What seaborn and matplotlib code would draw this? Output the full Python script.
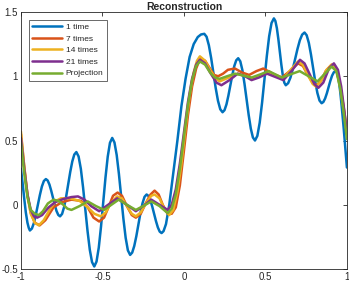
import numpy as np
import pandas as pd
import seaborn as sns
import matplotlib
matplotlib.use("Agg")
import matplotlib.pyplot as plt

labels = ["1 time", "7 times", "14 times", "21 times", "Projection"]
colors = ["#0072BD", "#D95319", "#EDB120", "#7E2F8E", "#77AC30"]

x_1 = [-1.000, -0.990, -0.980, -0.970, -0.960, -0.952, -0.945,
       -0.9328, -0.9205, -0.9083, -0.896, -0.8838, -0.8715, -0.8593, -0.847,
       -0.8361, -0.8253, -0.8144, -0.8035, -0.7926, -0.7818, -0.7709, -0.760,
       -0.7475, -0.735, -0.7225, -0.710, -0.6975, -0.685, -0.6725, -0.660,
       -0.6463, -0.6325, -0.6188, -0.605, -0.5913, -0.5775, -0.5638, -0.550,
       -0.5363, -0.5225, -0.5088, -0.495, -0.4813, -0.4675, -0.4538, -0.440,
       -0.4263, -0.4125, -0.3988, -0.385, -0.3713, -0.3575, -0.3438, -0.330,
       -0.3174, -0.3048, -0.2921, -0.2795, -0.2669, -0.2543, -0.2416, -0.229,
       -0.2175, -0.206, -0.1945, -0.183, -0.1715, -0.160, -0.1485, -0.137,
       -0.125, -0.110, -0.090, -0.065, -0.040, -0.015, 0.010, 0.035, 0.060, 0.085, 0.105, 0.125,
       0.139, 0.153, 0.167, 0.181, 0.195, 0.209, 0.223, 0.237,
       0.249, 0.261, 0.273, 0.285, 0.297, 0.309, 0.321, 0.333,
       0.3459, 0.3588, 0.3716, 0.3845, 0.3974, 0.4103, 0.4231, 0.436,
       0.4505, 0.465, 0.4795, 0.494, 0.5085, 0.523, 0.5375, 0.552,
       0.5611, 0.5703, 0.5794, 0.5885, 0.5976, 0.6068, 0.6159, 0.625,
       0.6394, 0.6538, 0.6681, 0.6825, 0.6969, 0.7113, 0.7256, 0.740,
       0.7531, 0.7663, 0.7794, 0.7925, 0.8056, 0.8188, 0.8319, 0.845,
       0.8556, 0.8663, 0.8769, 0.8875, 0.8981, 0.9088, 0.9194, 0.930,
       0.940, 0.950, 0.960, 0.970, 0.980, 0.990, 1.000]
y_1 = [0.28, 0.17, 0.05, -0.06, -0.14, -0.18, -0.20,
       -0.185, -0.142, -0.076, 0.00, 0.076, 0.142, 0.185, 0.20,
       0.189, 0.158, 0.110, 0.055, 0.000, -0.048, -0.079, -0.09,
       -0.071, -0.017, 0.0645, 0.16, 0.2555, 0.337, 0.391, 0.41,
       0.376, 0.280, 0.135, -0.035, -0.205, -0.350, -0.446, -0.48,
       -0.442, -0.334, -0.171, 0.02, 0.211, 0.374, 0.482, 0.52,
       0.485, 0.387, 0.239, 0.065, -0.109, -0.257, -0.355, -0.39,
       -0.372, -0.321, -0.245, -0.155, -0.065, 0.011, 0.062, 0.08,
       0.069, 0.036, -0.013, -0.07, -0.127, -0.176, -0.209, -0.22,
       -0.205, -0.15, 0.00, 0.25, 0.50, 0.77, 0.98, 1.15, 1.25, 1.305, 1.325, 1.33,
       1.307, 1.241, 1.142, 1.025, 0.908, 0.809, 0.743, 0.72,
       0.736, 0.781, 0.850, 0.93, 1.010, 1.079, 1.124, 1.14,
       1.116, 1.047, 0.942, 0.82, 0.698, 0.593, 0.524, 0.50,
       0.536, 0.639, 0.794, 0.975, 1.156, 1.311, 1.414, 1.45,
       1.430, 1.374, 1.289, 1.19, 1.091, 1.006, 0.950, 0.93,
       0.946, 0.990, 1.057, 1.135, 1.213, 1.280, 1.324, 1.34,
       1.319, 1.260, 1.170, 1.065, 0.960, 0.870, 0.811, 0.79,
       0.80, 0.827, 0.867, 0.915, 0.963, 1.004, 1.03, 1.04,
       1.03, 0.97, 0.87, 0.74, 0.60, 0.45, 0.29]

x_7 = [-1.000, -0.980, -0.960, -0.940, -0.915, -0.885, -0.850, -0.800, -0.750, -0.690,
       -0.630, -0.590, -0.555, -0.520, -0.490, -0.460, -0.435, -0.407, -0.380, -0.350,
       -0.320, -0.295, -0.265, -0.235, -0.205, -0.180, -0.155, -0.130, -0.100, -0.075,
       -0.050, -0.025, 0.000, 0.025, 0.050, 0.075, 0.100, 0.130, 0.160, 0.185,
       0.210, 0.240, 0.270, 0.313, 0.355, 0.400, 0.445, 0.487, 0.545, 0.600,
       0.650, 0.700, 0.730, 0.760, 0.790, 0.815, 0.840, 0.870, 0.906, 0.935,
       0.960, 0.980, 1.000]
y_7 = [0.55, 0.30, 0.08, -0.06, -0.14, -0.16, -0.12, -0.02, 0.02, 0.04,
       0.03, -0.02, -0.10, -0.13, -0.10, -0.01, 0.07, 0.095, 0.07, -0.01,
       -0.08, -0.10, -0.07, 0.01, 0.08, 0.11, 0.08, 0.00, -0.07, -0.07,
       -0.02, 0.15, 0.42, 0.70, 0.92, 1.06, 1.14, 1.12, 1.06, 1.01,
       1.00, 1.02, 1.05, 1.06, 1.03, 1.01, 1.04, 1.06, 1.02, 0.99,
       1.04, 1.10, 1.08, 1.01, 0.95, 0.93, 0.96, 1.04, 1.09, 1.05,
       0.92, 0.76, 0.58]

x_14 = [-1.000, -0.980, -0.960, -0.940, -0.915, -0.890, -0.860, -0.820, -0.785, -0.755,
        -0.700, -0.640, -0.590, -0.550, -0.510, -0.480, -0.450, -0.410, -0.380, -0.350,
        -0.320, -0.295, -0.265, -0.230, -0.200, -0.180, -0.150, -0.120, -0.090, -0.065,
        -0.040, -0.015, 0.010, 0.035, 0.060, 0.080, 0.098, 0.130, 0.165, 0.195,
        0.220, 0.275, 0.330, 0.380, 0.430, 0.470, 0.510, 0.560, 0.610, 0.655,
        0.700, 0.730, 0.760, 0.790, 0.810, 0.840, 0.875, 0.906, 0.935, 0.960,
        0.980, 1.000]
y_14 = [0.57, 0.30, 0.07, -0.07, -0.14, -0.16, -0.12, -0.03, 0.03, 0.05,
        0.05, 0.03, -0.02, -0.07, -0.09, -0.06, 0.01, 0.065, 0.05, -0.01,
        -0.07, -0.09, -0.06, 0.02, 0.07, 0.08, 0.05, -0.03, -0.08, -0.04,
        0.10, 0.32, 0.60, 0.85, 1.03, 1.12, 1.155, 1.12, 1.04, 0.98,
        0.96, 0.99, 1.02, 1.00, 0.98, 1.005, 1.03, 1.005, 0.98, 1.05,
        1.115, 1.09, 1.01, 0.94, 0.92, 0.96, 1.05, 1.09, 1.05, 0.91,
        0.74, 0.55]

x_21 = [-1.000, -0.980, -0.960, -0.940, -0.920, -0.900, -0.870, -0.830, -0.790, -0.740,
        -0.690, -0.650, -0.610, -0.570, -0.520, -0.465, -0.410, -0.350, -0.295, -0.250,
        -0.200, -0.150, -0.100, -0.075, -0.050, -0.025, 0.000, 0.025, 0.050, 0.075,
        0.098, 0.130, 0.165, 0.200, 0.230, 0.280, 0.330, 0.375, 0.415, 0.460,
        0.510, 0.560, 0.610, 0.660, 0.712, 0.740, 0.770, 0.800, 0.825, 0.855,
        0.890, 0.920, 0.945, 0.965, 0.985, 1.000]
y_21 = [0.52, 0.28, 0.08, -0.04, -0.09, -0.10, -0.08, -0.02, 0.02, 0.045,
        0.06, 0.065, 0.04, -0.01, -0.05, 0.00, 0.05, 0.00, -0.05, -0.01,
        0.04, 0.00, -0.04, 0.00, 0.12, 0.32, 0.56, 0.80, 0.98, 1.09,
        1.128, 1.10, 1.02, 0.95, 0.93, 0.97, 1.02, 1.00, 0.97, 0.99,
        1.02, 0.995, 0.97, 1.04, 1.128, 1.10, 1.02, 0.94, 0.91, 0.95,
        1.06, 1.10, 1.05, 0.92, 0.72, 0.55]

x_p = [-1.000, -0.980, -0.960, -0.940, -0.915, -0.890, -0.865, -0.835, -0.800, -0.770,
       -0.740, -0.715, -0.690, -0.640, -0.590, -0.540, -0.490, -0.445, -0.400, -0.350,
       -0.295, -0.250, -0.200, -0.150, -0.100, -0.075, -0.050, -0.025, 0.000, 0.025,
       0.050, 0.075, 0.098, 0.130, 0.160, 0.190, 0.220, 0.265, 0.313, 0.365,
       0.415, 0.470, 0.520, 0.560, 0.600, 0.655, 0.710, 0.765, 0.820, 0.865,
       0.906, 0.935, 0.960, 0.980, 1.000]
y_p = [0.48, 0.25, 0.06, -0.04, -0.07, -0.08, -0.05, 0.01, 0.04, 0.03,
       0.00, -0.03, -0.04, -0.01, 0.026, -0.01, -0.04, 0.00, 0.04, 0.00,
       -0.04, -0.01, 0.026, -0.01, -0.065, -0.03, 0.08, 0.28, 0.53, 0.78,
       0.97, 1.08, 1.115, 1.09, 1.03, 0.99, 0.98, 1.00, 1.02, 1.005,
       0.99, 1.015, 1.04, 1.015, 0.99, 1.015, 1.04, 1.00, 0.96, 1.02,
       1.075, 1.04, 0.90, 0.72, 0.51]

series_x = [x_1, x_7, x_14, x_21, x_p]
series_y = [y_1, y_7, y_14, y_21, y_p]

frames = []
for lab, xs, ys in zip(labels, series_x, series_y):
    frames.append(pd.DataFrame({"x": xs, "y": ys, "series": lab}))
df = pd.concat(frames, ignore_index=True)

sns.set_theme(style="white")
plt.rcParams["font.family"] = ["Liberation Sans", "DejaVu Sans"]

fig = plt.figure(figsize=(3.49, 2.85), dpi=100)
ax = fig.add_axes([0.060, 0.056, 0.934, 0.902])

sns.lineplot(data=df, x="x", y="y", hue="series", hue_order=labels,
             palette=dict(zip(labels, colors)), sort=False, estimator=None,
             linewidth=1.8, ax=ax, legend=True)
for ln in ax.get_lines():
    ln.set_solid_joinstyle("round")
    ln.set_solid_capstyle("round")

ax.set_xlim(-1, 1)
ax.set_ylim(-0.5, 1.5)
ax.set_xticks([-1, -0.5, 0, 0.5, 1])
ax.set_xticklabels(["-1", "-0.5", "0", "0.5", "1"])
ax.set_yticks([-0.5, 0, 0.5, 1, 1.5])
ax.set_yticklabels(["-0.5", "0", "0.5", "1", "1.5"])
ax.set_xlabel("")
ax.set_ylabel("")
ax.set_title("Reconstruction", fontsize=7.5, fontweight="bold", pad=1.5)

for s in ax.spines.values():
    s.set_color("#262626")
    s.set_linewidth(0.6)
ax.tick_params(direction="in", length=3, width=0.6, colors="#262626",
               labelsize=7, top=True, right=True, pad=2)

handles, labs = ax.get_legend_handles_labels()
leg = ax.legend(handles, labs, loc="upper left", bbox_to_anchor=(0.0245, 0.969),
                borderaxespad=0, fontsize=6, handlelength=3.6, handletextpad=0.4,
                labelspacing=0.45, frameon=True, fancybox=False, borderpad=0.4)
leg.get_frame().set_edgecolor("#262626")
leg.get_frame().set_linewidth(0.6)
for h in leg.get_lines():
    h.set_linewidth(1.8)

fig.savefig("out.png", dpi=100)
